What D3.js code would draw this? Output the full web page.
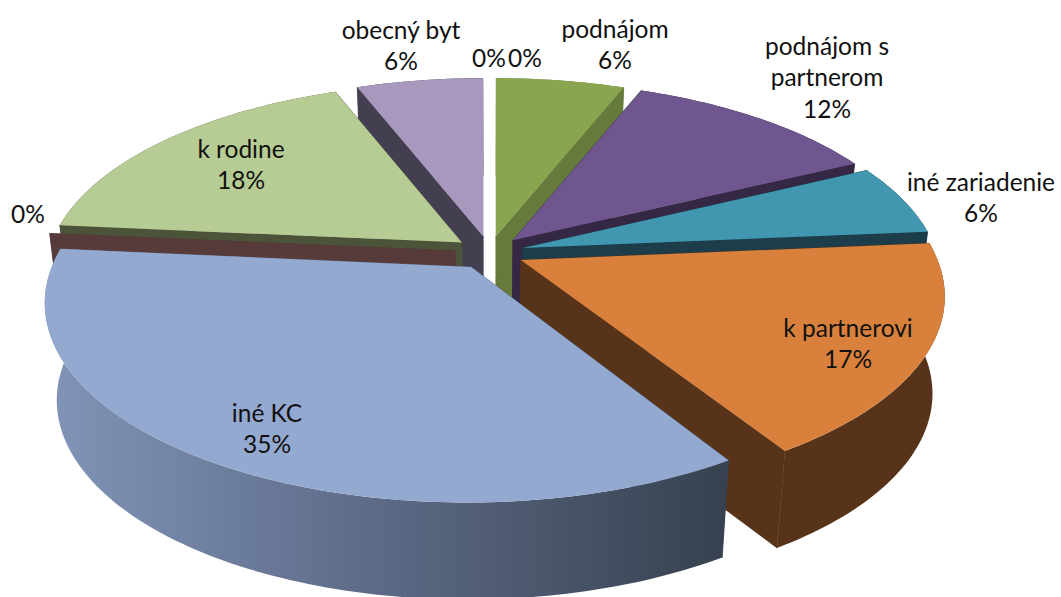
<!DOCTYPE html>
<html>
<head>
<meta charset="utf-8">
<script src="https://cdn.jsdelivr.net/npm/d3@7"></script>
<style>
  html, body { margin: 0; padding: 0; background: #fff; overflow: hidden; }
  svg { display: block; }
  text { font-family: Lato, "Open Sans", sans-serif; font-size: 24.5px; fill: #111; }
</style>
</head>
<body>
<div id="chart"></div>
<script>
// Data, clockwise from 12 o'clock
const categories = ["", "podnájom", "podnájom s|partnerom", "iné zariadenie", "k partnerovi", "iné KC", "", "k rodine", "obecný byt", ""];
const shares = [0, 5.9, 11.8, 5.9, 17.49, 35.4, 0, 17.7, 5.81, 0];

// Colours
const topColors = ["#8aa550", "#8aa550", "#6f568f", "#4097af", "#d9813c", "#94a9d0", "#8c4a48", "#b7cc94", "#a898bd", "#a898bd"];
const wallColors = ["#667b3b", "#667b3b", "#352845", "#1c3d49", "#573319", "url(#rimBlue)", "#573a3a", "#4b5339", "#443f50", "#443f50"];

// Label centres (first line), by slice
const labelAt = [[525, 57], [615, 28], [827, 45], [981, 181], [848, 327], [267, 412], [28, 213], [241, 148], [401, 29], [489, 57]];

// Configuration
const width = 1061;
const height = 597;
const cx = 489.5, cy = 252.5;
const radiusX = 414, radiusY = 190;
const explodeU = 0.0838, explodeV = 0.0884; // slice offset, in pie radii
const persp = 0.17;         // how much the front of the pie grows
const depth = 97;           // wall height on screen
const bottomScale = 0.973;  // walls lean inward going down
const lineGap = 31.5;

const svg = d3.select("#chart").append("svg")
    .attr("width", width)
    .attr("height", height)
    .attr("viewBox", [0, 0, width, height]);

const grad = svg.append("defs").append("linearGradient")
    .attr("id", "rimBlue")
    .attr("gradientUnits", "userSpaceOnUse")
    .attr("x1", 45).attr("x2", 724).attr("y1", 0).attr("y2", 0);
grad.append("stop").attr("offset", 0).attr("stop-color", "#8295b8");
grad.append("stop").attr("offset", 0.5).attr("stop-color", "#5b6985");
grad.append("stop").attr("offset", 1).attr("stop-color", "#37414f");

const pie = d3.pie().value(d => d).sort(null);
const slices = pie(shares).map((d, i) => ({ ...d, i, mid: (d.startAngle + d.endAngle) / 2 }));

// Pie-plane point to screen, on the top face of an exploded slice
const project = (s, angle, r) => {
    const ru = r * Math.sin(angle);
    const v = -r * Math.cos(angle) - explodeV * Math.cos(s.mid);
    const w = 1 - persp * v;
    return {
        // the offset only grows toward the front, so the edges at 12 o'clock stay vertical
        x: cx + radiusX * (ru / w + explodeU * Math.sin(s.mid) / Math.min(1, w)),
        y: cy + radiusY * v / w
    };
};
const upper = p => [p.x, p.y];
const lower = p => [cx + (p.x - cx) * bottomScale, p.y + depth];

const line = d3.line();
const arcPoints = (s) => {
    const n = Math.max(1, Math.ceil((s.endAngle - s.startAngle) / 0.02));
    return d3.range(n + 1).map(k => project(s, s.startAngle + (s.endAngle - s.startAngle) * k / n, 1));
};

// Painter's order: the back of the pie first
const order = slices.slice().sort((a, b) => d3.descending(Math.cos(a.mid), Math.cos(b.mid)));

order.forEach(s => {
    const g = svg.append("g");
    const rim = arcPoints(s);
    const apex = project(s, s.startAngle, 0);
    const wall = wallColors[s.i];

    // Outer wall
    if (s.endAngle > s.startAngle) {
        g.append("path")
            .attr("fill", wall)
            .attr("d", line([...rim.map(upper), ...rim.slice().reverse().map(lower)]) + "Z");
    }

    // Radial walls, stroked a little to hide the hairline against the outer wall
    [rim[0], rim[rim.length - 1]].forEach(p => {
        g.append("path")
            .attr("fill", wall)
            .attr("stroke", Math.abs(p.x - apex.x) > 1 ? wall : "none")
            .attr("stroke-width", 0.6)
            .attr("d", line([upper(apex), upper(p), lower(p), lower(apex)]) + "Z");
    });

    // Top face
    if (s.endAngle > s.startAngle) {
        g.append("path")
            .attr("fill", topColors[s.i])
            .attr("d", line([upper(apex), ...rim.map(upper)]) + "Z");
    }
});

// Labels
slices.forEach(s => {
    const pct = d3.format(".0%")(s.data / 100);
    const lines = categories[s.i] ? [...categories[s.i].split("|"), pct] : [pct];
    const [lx, ly] = labelAt[s.i];
    svg.append("text")
        .attr("text-anchor", "middle")
        .selectAll("tspan")
        .data(lines)
        .join("tspan")
        .attr("x", lx)
        .attr("y", (d, k) => ly + k * lineGap)
        .attr("dominant-baseline", "central")
        .text(d => d);
});
</script>
</body>
</html>
